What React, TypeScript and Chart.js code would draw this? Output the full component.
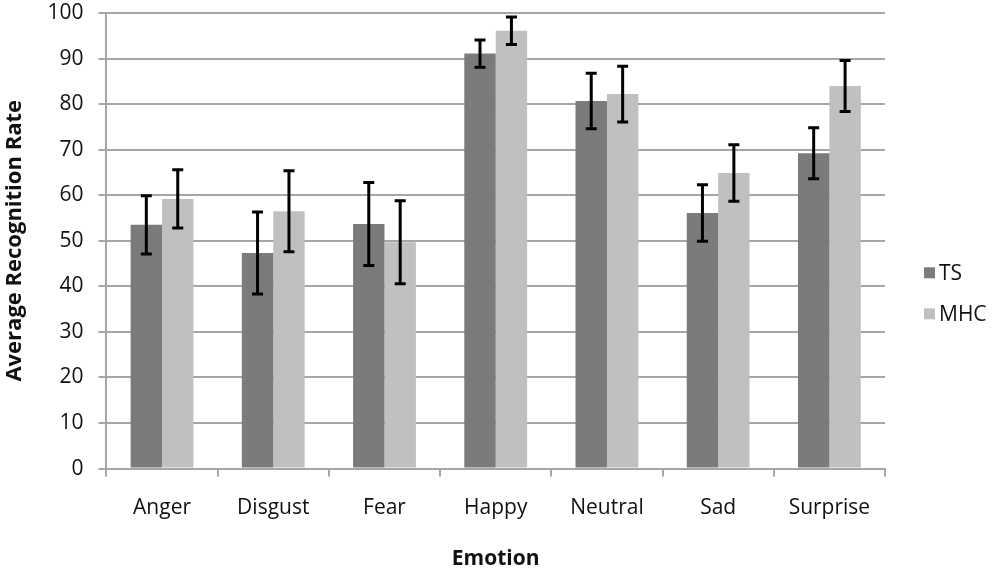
import { useEffect, useRef } from "react";
import { Chart, registerables } from "chart.js";

Chart.register(...registerables);

const emotions = ["Anger", "Disgust", "Fear", "Happy", "Neutral", "Sad", "Surprise"];
const tsValues = [53.5, 47.3, 53.7, 91.1, 80.7, 56.1, 69.2];
const tsErrors = [6.4, 9.0, 9.1, 3.0, 6.1, 6.2, 5.6];
const mhcValues = [59.2, 56.5, 49.7, 96.1, 82.2, 64.9, 84.0];
const mhcErrors = [6.4, 8.9, 9.1, 3.0, 6.1, 6.2, 5.6];

const FONT = "'Open Sans', 'DejaVu Sans', sans-serif";
const TEXT = "#111";
const GRID = "#a6a6a6";

const errorBars = {
  id: "errorBars",
  afterDatasetsDraw(chart: any) {
    const { ctx } = chart;
    const yScale = chart.scales.y;
    const errs = [tsErrors, mhcErrors];
    chart.data.datasets.forEach((ds: any, di: number) => {
      const meta = chart.getDatasetMeta(di);
      meta.data.forEach((bar: any, i: number) => {
        const v = ds.data[i];
        const e = errs[di][i];
        const top = yScale.getPixelForValue(v + e);
        const bottom = yScale.getPixelForValue(v - e);
        const x = bar.x;
        ctx.save();
        ctx.strokeStyle = "#000";
        ctx.lineWidth = 3;
        ctx.beginPath();
        ctx.moveTo(x, top);
        ctx.lineTo(x, bottom);
        ctx.moveTo(x - 5.5, top);
        ctx.lineTo(x + 5.5, top);
        ctx.moveTo(x - 5.5, bottom);
        ctx.lineTo(x + 5.5, bottom);
        ctx.stroke();
        ctx.restore();
      });
    });
  },
};

// legend drawn to the right of the plot, like the spreadsheet original
const sideLegend = {
  id: "sideLegend",
  afterDraw(chart: any) {
    const { ctx, chartArea } = chart;
    const mid = (chartArea.top + chartArea.bottom) / 2;
    const boxX = chartArea.right + 39;
    ctx.save();
    ctx.font = `21px ${FONT}`;
    ctx.textBaseline = "middle";
    ctx.fillStyle = TEXT;
    chart.data.datasets.forEach((ds: any, i: number) => {
      const cy = mid + 32 + i * 41;
      ctx.fillStyle = ds.backgroundColor;
      ctx.fillRect(boxX, cy - 5.5, 11, 11);
      ctx.fillStyle = TEXT;
      ctx.fillText(ds.label, boxX + 15, cy + 1);
    });
    ctx.restore();
  },
};

const RecognitionChart = () => {
  const canvasRef = useRef<HTMLCanvasElement>(null);

  useEffect(() => {
    if (!canvasRef.current) return;
    const chart = new Chart(canvasRef.current, {
      type: "bar",
      data: {
        labels: emotions,
        datasets: [
          {
            label: "TS",
            data: tsValues,
            backgroundColor: "#7b7b7b",
            categoryPercentage: 0.565,
            barPercentage: 1,
          },
          {
            label: "MHC",
            data: mhcValues,
            backgroundColor: "#c0c0c0",
            categoryPercentage: 0.565,
            barPercentage: 1,
          },
        ],
      },
      options: {
        animation: false,
        responsive: true,
        maintainAspectRatio: false,
        layout: { padding: { top: 0, right: 107, left: 2, bottom: -4 } },
        plugins: {
          tooltip: { enabled: false },
          legend: { display: false },
        },
        scales: {
          x: {
            grid: {
              display: true,
              drawOnChartArea: false,
              drawTicks: true,
              tickLength: 8,
              color: GRID,
              lineWidth: 2,
            },
            border: { color: GRID, width: 2 },
            ticks: {
              color: TEXT,
              padding: 19,
              font: { family: FONT, size: 21 },
            },
            title: {
              display: true,
              text: "Emotion",
              color: TEXT,
              padding: { top: 7, bottom: 0 },
              font: { family: FONT, size: 21, weight: "bold" },
            },
          },
          y: {
            min: 0,
            max: 100,
            afterFit: (scale: any) => {
              scale.paddingTop = 13;
            },
            grid: {
              color: GRID,
              lineWidth: 2,
              tickLength: 8,
            },
            border: { color: GRID, width: 2 },
            ticks: {
              stepSize: 10,
              color: TEXT,
              padding: 15,
              font: { family: FONT, size: 21 },
            },
            title: {
              display: true,
              text: "Average Recognition Rate",
              color: TEXT,
              padding: { top: 0, bottom: 4 },
              font: { family: FONT, size: 22, weight: "bold" },
            },
          },
        },
      },
      plugins: [errorBars, sideLegend],
    });
    return () => chart.destroy();
  }, []);

  return <canvas ref={canvasRef}></canvas>;
};

export default function App() {
  return (
    <div style={{ position: "absolute", left: 0, top: 0, width: 992, height: 568, background: "#fff" }}>
      <RecognitionChart />
    </div>
  );
}
